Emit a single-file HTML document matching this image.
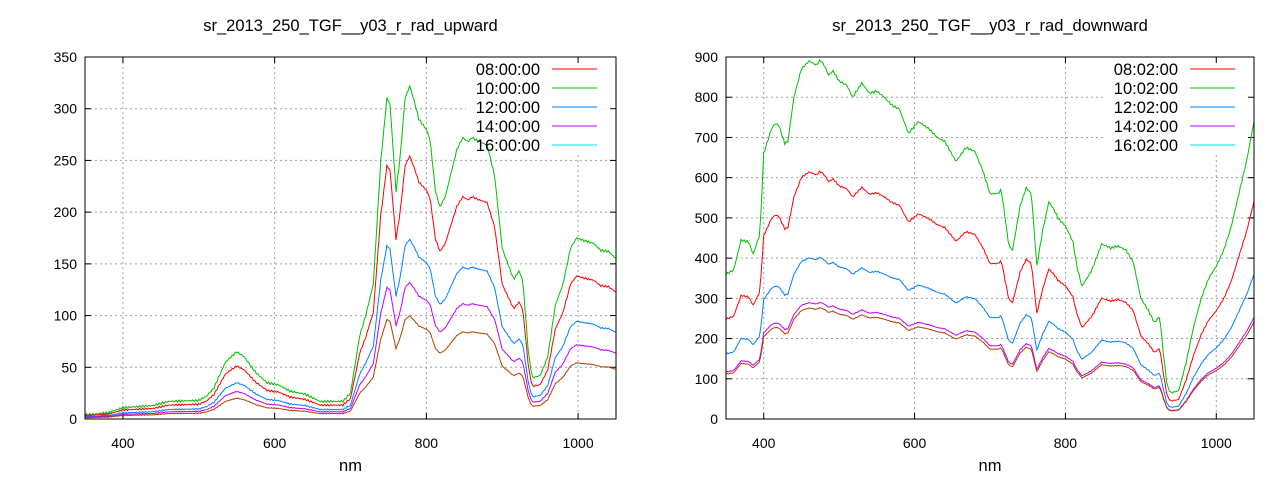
<!DOCTYPE html>
<html><head><meta charset="utf-8"><style>
body{margin:0;background:#fff}
svg{display:block}
text{font-family:"Liberation Sans",sans-serif;font-size:14px;fill:#000}
text.big{font-size:16.5px}
</style></head><body>
<svg id="s" width="1280" height="480" xmlns="http://www.w3.org/2000/svg"></svg>
<script>
const S=document.getElementById('s');let h='';
const up=[[350,4],[380,6],[400,11],[420,12],[440,13],[460,17],[500,18],[510,22],[520,30],[535,55],[550,65],[560,60],[575,45],[590,35],[605,33],[620,27],[640,24],[660,17],[690,17],[700,25],[712,80],[720,100],[730,130],[740,250],[748,310],[752,305],[760,220],[765,250],[772,310],[778,322],[785,305],[790,290],[800,280],[805,270],[812,220],[818,205],[825,215],[840,260],[848,272],[855,268],[860,272],[870,268],[880,265],[890,235],[900,165],[910,145],[915,135],[922,143],[927,135],[935,60],[940,40],[950,42],[960,60],[970,110],[980,130],[990,165],[998,175],[1010,172],[1020,170],[1030,163],[1040,162],[1050,155]];
const dn=[[350,360],[360,370],[370,445],[380,440],[386,410],[395,460],[400,660],[410,720],[415,735],[420,730],[428,685],[432,690],[440,800],[450,870],[460,890],[470,880],[475,893],[480,880],[486,855],[492,865],[500,840],[510,830],[518,800],[530,835],[540,810],[550,815],[560,800],[570,780],[580,770],[592,710],[605,740],[620,720],[630,700],[640,690],[655,640],[668,675],[680,665],[690,620],[700,560],[710,560],[715,570],[725,430],[730,420],[740,530],[748,575],[755,560],[762,380],[770,470],[778,540],[785,520],[790,500],[800,480],[810,440],[815,380],[822,330],[835,370],[848,435],[860,425],[870,430],[880,420],[890,390],[900,300],[910,270],[918,240],[925,255],[930,160],[935,80],[940,65],[950,70],[960,140],[970,230],[980,300],[990,350],[1000,380],[1010,420],[1020,480],[1030,560],[1040,640],[1050,740]];
function interp(k,x){for(let i=1;i<k.length;i++){if(x<=k[i][0]){const a=k[i-1],b=k[i];return a[1]+(b[1]-a[1])*(x-a[0])/(b[0]-a[0]);}}return k[k.length-1][1];}
function plot(L,R,ymax,ystep,keys,scales,title,labels,tail){
 const T=57,B=419,sx=x=>L+(x-350)*(R-L)/700,sy=y=>B-y*(B-T)/ymax;
 h+=`<text class="big" x="${(L+R)/2}" y="31" text-anchor="middle">${title}</text>`;
 h+=`<text class="big" x="${(L+R)/2}" y="471" text-anchor="middle">nm</text>`;
 for(let y=0;y<=ymax;y+=ystep){const Y=sy(y);
  if(y>0&&y<ymax){let x2=(Y<155)?R-150:R;h+=`<line x1="${L}" y1="${Y}" x2="${x2}" y2="${Y}" stroke="#a0a0a0" stroke-dasharray="2,3"/>`;}
  h+=`<line x1="${L}" y1="${Y}" x2="${L+6}" y2="${Y}" stroke="#000"/><line x1="${R-6}" y1="${Y}" x2="${R}" y2="${Y}" stroke="#000"/>`;
  h+=`<text x="${L-8}" y="${Y+5}" text-anchor="end">${y}</text>`;}
 for(let x=400;x<=1000;x+=200){const X=sx(x);
  h+=`<line x1="${X}" y1="${X>R-160?155:T}" x2="${X}" y2="${B}" stroke="#a0a0a0" stroke-dasharray="2,3"/>`;
  h+=`<line x1="${X}" y1="${B}" x2="${X}" y2="${B-6}" stroke="#000"/><line x1="${X}" y1="${T}" x2="${X}" y2="${T+6}" stroke="#000"/>`;
  h+=`<text x="${X}" y="${B+29}" text-anchor="middle">${x}</text>`;}
 const cols=['#ff0000','#00c000','#0080ff','#c000ff','#b04000'];
 const order=[1,0,2,3,4];
 for(const i of order){let p='';for(let x=350;x<=1050;x+=2){let sc=scales[i];if(tail&&x>960&&i!=1)sc*=1+tail[i]*(x-960)/90;let v=interp(keys,x)*sc+Math.sin(x*1.7)*0.003*ymax*scales[i];p+=(p?'L':'M')+sx(x).toFixed(1)+','+sy(Math.max(0,v)).toFixed(1);}
  h+=`<path d="${p}" fill="none" stroke="${cols[i]}" stroke-width="1"/>`;}
 h+=`<rect x="${L}" y="${T}" width="${R-L}" height="${B-T}" fill="none" stroke="#000"/>`;
 const lc=['#ff0000','#00c000','#0080ff','#c000ff','#00e0e0'];
 for(let i=0;i<5;i++){const Y=69+i*19;
  h+=`<text class="big" x="${R-76}" y="${Y+6}" text-anchor="end">${labels[i]}</text>`;
  h+=`<line x1="${R-64}" y1="${Y}" x2="${R-19}" y2="${Y}" stroke="${lc[i]}"/>`;}
}
plot(85,616,350,50,up,[0.79,1,0.54,0.41,0.31],'sr_2013_250_TGF__y03_r_rad_upward',['08:00:00','10:00:00','12:00:00','14:00:00','16:00:00']);
plot(726,1254,900,100,dn,[0.69,1,0.45,0.325,0.31],'sr_2013_250_TGF__y03_r_rad_downward',['08:02:00','10:02:00','12:02:00','14:02:00','16:02:00'],[0.06,0,0.08,0.05,0.05]);
S.innerHTML=h;
</script>
</body></html>
